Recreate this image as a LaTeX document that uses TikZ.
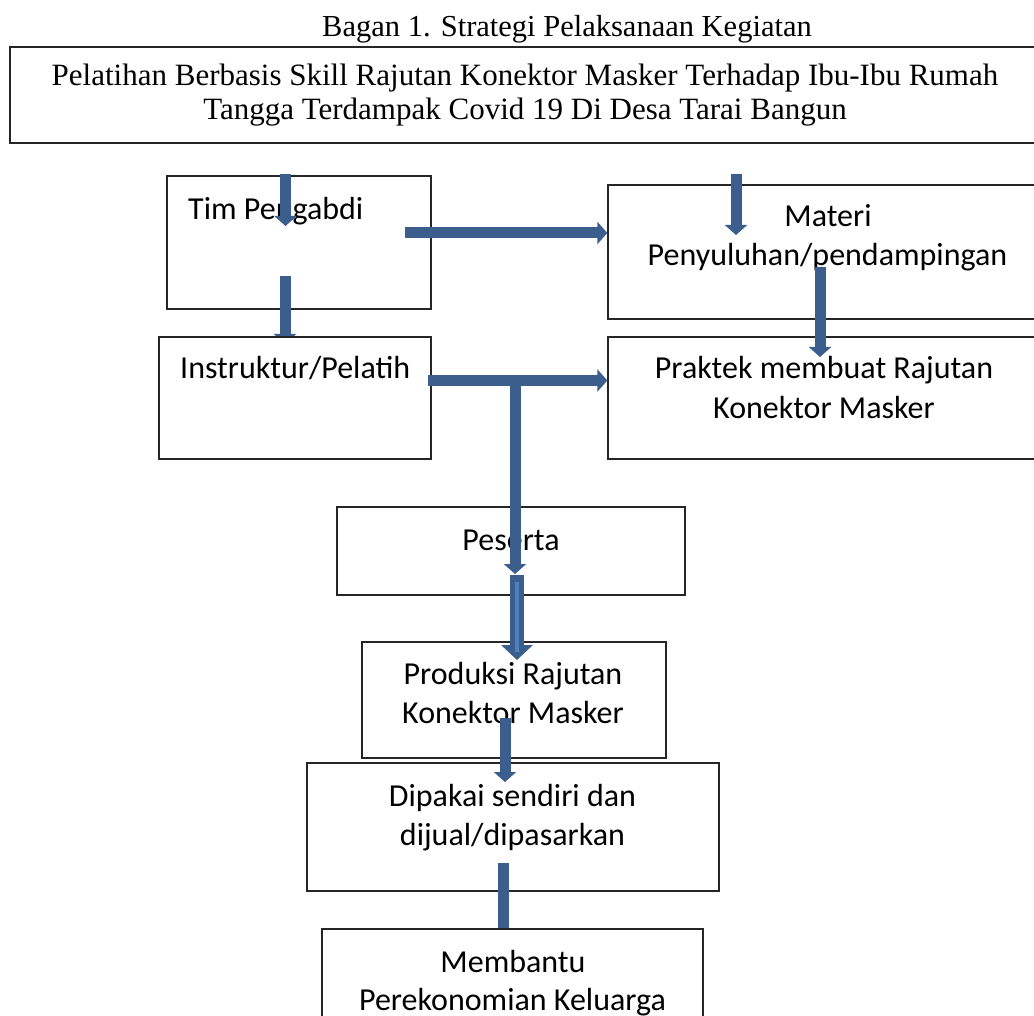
\documentclass[tikz,border=0pt]{standalone}
\usepackage{fontspec}
\setmainfont{Carlito}
\newfontfamily\titlefont{Liberation Serif}
\usetikzlibrary{arrows.meta}
\definecolor{arr}{HTML}{3B5E8C}
\definecolor{arrlight}{HTML}{4F81BD}
\tikzset{
  box/.style={draw=black!85, line width=1.3pt, fill=white, inner sep=0pt},
  lbl/.style={anchor=base, inner sep=0pt, font=\fontsize{32}{39}\selectfont},
  ttl/.style={anchor=base, inner sep=0pt, font=\titlefont\fontsize{31}{36}\selectfont},
  flow/.style={draw=arr, line width=11pt, -{Triangle[width=22pt,length=10pt]}},
  plain/.style={draw=arr, line width=11pt},
}
\begin{document}
\begin{tikzpicture}[x=1pt,y=-1pt]
\useasboundingbox (0,0) rectangle (1034,1016);
\fill[white] (0,0) rectangle (1034,1016);

% title
\node[ttl, font=\titlefont\fontsize{30.5}{36}\selectfont] (title) at (567,37) {Bagan 1. Strategi Pelaksanaan Kegiatan};

% boxes
\node[box, minimum width=1035pt, minimum height=96pt] (top) at (527.5,95) {};
\node[ttl] (top1) at (525,86) {Pelatihan Berbasis Skill Rajutan Konektor Masker Terhadap Ibu-Ibu Rumah};
\node[ttl] (top2) at (525,120) {Tangga Terdampak Covid 19 Di Desa Tarai Bangun};

\node[box, minimum width=264pt, minimum height=133pt] (tim) at (299,242.5) {};
\node[lbl, anchor=base west] (timt) at (188,220) {Tim Pengabdi};

\node[box, minimum width=437pt, minimum height=134pt] (materi) at (826.5,252) {};
\node[lbl] (materi1) at (828,227) {Materi};
\node[lbl] (materi2) at (827.5,266) {Penyuluhan/pendampingan};

% arrow from Tim Pengabdi down to Instruktur (lies under the Instruktur box)
\coordinate (a2s) at (285,276);
\coordinate (a2e) at (285,344);
\draw[flow] (a2s) -- (a2e);

\node[box, minimum width=272pt, minimum height=122pt] (instr) at (295,398) {};
\node[lbl, anchor=base west] (instrt) at (180,379) {Instruktur/Pelatih};

\node[box, minimum width=437pt, minimum height=122pt] (praktek) at (826.5,398) {};
\node[lbl] (praktek1) at (824,379) {Praktek membuat Rajutan};
\node[lbl] (praktek2) at (824,418) {Konektor Masker};

\node[box, minimum width=348pt, minimum height=88pt] (peserta) at (511,551) {};
\node[lbl] (pesertat) at (511,550) {Peserta};

\node[box, minimum width=304pt, minimum height=116pt] (produksi) at (514,700) {};
\node[lbl] (produksi1) at (513,684) {Produksi Rajutan};
\node[lbl] (produksi2) at (513,723) {Konektor Masker};

\node[box, minimum width=412pt, minimum height=128pt] (dipakai) at (513,827) {};
\node[lbl] (dipakai1) at (512.5,806) {Dipakai sendiri dan};
\node[lbl] (dipakai2) at (512.5,845) {dijual/dipasarkan};

\node[box, minimum width=381pt, minimum height=101pt] (membantu) at (512.5,979.5) {};
\node[lbl] (membantu1) at (513,972) {Membantu};
\node[lbl] (membantu2) at (512.5,1010) {Perekonomian Keluarga};

% arrows
\coordinate (a1s) at (285.5,174);
\coordinate (a1e) at (285.5,226);
\draw[flow] (a1s) -- (a1e);

\coordinate (a3s) at (405,233);
\draw[flow] (a3s) -- (materi.west |- a3s);

\coordinate (a4s) at (736,174);
\coordinate (a4e) at (736,235);
\draw[flow] (a4s) -- (a4e);

\coordinate (a5s) at (820,267);
\coordinate (a5e) at (820,357);
\draw[flow] (a5s) -- (a5e);

\coordinate (a6s) at (428,380.5);
\coordinate (jn) at (515,380.5);
\draw[flow] (a6s) -- (praktek.west |- a6s);
\coordinate (a7e) at (515,574);
\draw[flow] (jn) -- (a7e);

\coordinate (a8s) at (517,575);
\coordinate (a8e) at (517,660);
\draw[draw=arr, line width=14pt, -{Triangle[width=31pt,length=15pt]}] (a8s) -- (a8e);
\coordinate (a8is) at (517,582);
\coordinate (a8ie) at (517,652);
\draw[draw=arrlight, line width=4.5pt] (a8is) -- (a8ie);

\coordinate (a9s) at (505,718);
\coordinate (a9e) at (505,782);
\draw[flow] (a9s) -- (a9e);

\coordinate (a10s) at (503,863);
\draw[plain] (a10s) -- (membantu.north -| a10s);
\end{tikzpicture}
\end{document}
